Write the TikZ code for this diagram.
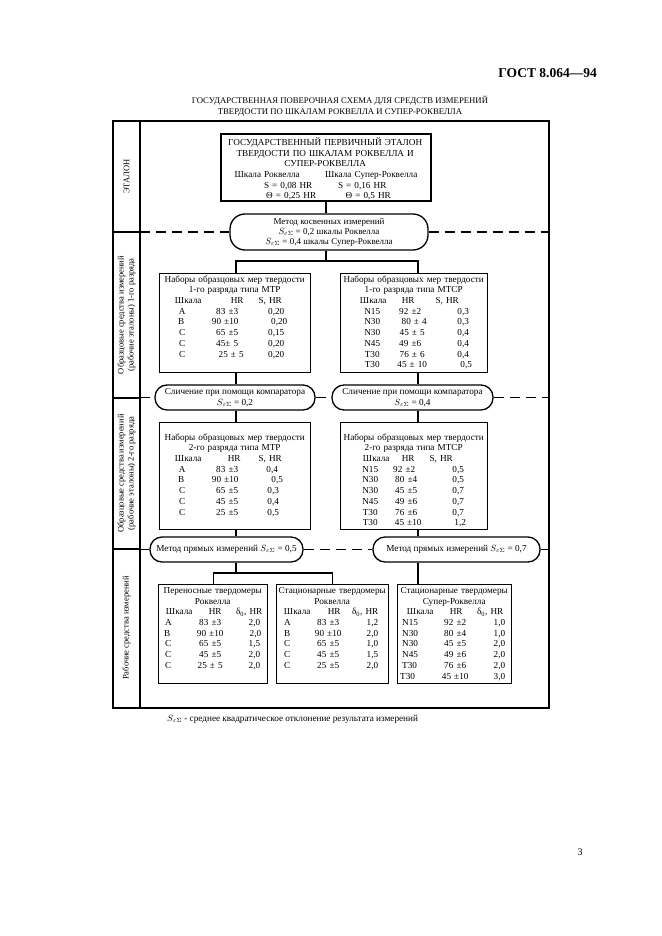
\documentclass[tikz,border=0pt]{standalone}
\usepackage{fontspec}
\setmainfont{Liberation Serif}
\setlength\parindent{0pt}
\newcommand\fs{\fontsize{9.2}{10.7}\selectfont}
\newcommand\cellC[2]{\leavevmode\rlap{\hspace*{#1pt}\makebox[0pt][c]{#2}}}
\newcommand\cellR[2]{\leavevmode\rlap{\hspace*{#1pt}\llap{#2}}}
\newcommand\cellL[2]{\leavevmode\rlap{\hspace*{#1pt}#2}}
\newcommand\ctr[2]{\leavevmode\makebox[#1pt][c]{#2}}
\newcommand\Se{$S_{\varepsilon\Sigma}$}
\newcommand\dz{δ\textsubscript{0}, HR}
\begin{document}
\begin{tikzpicture}[x=1pt,y=-1pt,
  box/.style={draw, line width=1.4pt, inner sep=0pt, anchor=north west},
  tbl/.style={inner sep=0pt, anchor=north west, font=\fs, align=left, text width=#1},
  pill/.style={draw, line width=1.3pt, rounded corners=12pt, inner sep=0pt, font=\fs, align=center},
  conn/.style={line width=1.2pt},
  dline/.style={line width=1.2pt, dash pattern=on 10pt off 6pt},
  lbl/.style={rotate=90, align=center, inner sep=0pt, font=\fontsize{8.5}{10}\selectfont}]
\useasboundingbox (0,0) rectangle (661,936);
\fill[white] (0,0) rectangle (661,936);

% header
\node[anchor=east, inner sep=0pt, font=\bfseries\fontsize{13.5}{15}\selectfont] (gost) at (597,73) {ГОСТ 8.064—94};
\node[align=center, inner sep=0pt, font=\fontsize{8.7}{11}\selectfont] (title) at (340,106.5)
  {ГОСУДАРСТВЕННАЯ ПОВЕРОЧНАЯ СХЕМА ДЛЯ СРЕДСТВ ИЗМЕРЕНИЙ\\ТВЕРДОСТИ ПО ШКАЛАМ РОКВЕЛЛА И СУПЕР-РОКВЕЛЛА};

% frame
\draw[line width=1.3pt] (113,121) rectangle (549,708);
\draw[line width=1.3pt] (140,121) -- (140,708);
\draw[line width=1.2pt] (113,232) -- (140,232);
\draw[line width=1.2pt] (113,398) -- (140,398);
\draw[line width=1.2pt] (113,549) -- (140,549);
\coordinate (fl) at (140,0);
\coordinate (fr) at (549,0);

% left labels
\node[lbl] (l1) at (126.5,176.5) {ЭТАЛОН};
\node[lbl] (l2) at (126.5,315) {Образцовые средства измерений\\(рабочие эталоны) 1-го разряда};
\node[lbl] (l3) at (126.5,473.5) {Образцовые средства измерений\\(рабочие эталоны) 2-го разряда};
\node[lbl] (l4) at (126.5,628) {Рабочие средства измерений};

% top box
\node[box, line width=2.2pt, minimum width=210pt, minimum height=67pt] (t) at (220,133) {};
\node[tbl=210pt] (tt) at (220,137.4) {%
\ctr{210}{ГОСУДАРСТВЕННЫЙ ПЕРВИЧНЫЙ ЭТАЛОН}\\
\ctr{210}{ТВЕРДОСТИ ПО ШКАЛАМ РОКВЕЛЛА И}\\
\ctr{210}{СУПЕР-РОКВЕЛЛА}\\
\cellC{47}{Шкала Роквелла}\cellC{151}{Шкала Супер-Роквелла}\\
\cellC{68}{S = 0,08 HR}\cellC{142}{S = 0,16 HR}\\
\cellC{71}{Θ = 0,25 HR}\cellC{148}{Θ = 0,5 HR}};

% method box
\node[pill, rounded corners=15pt, minimum width=198pt, minimum height=36pt, font=\fontsize{9}{10}\selectfont] (m) at (329,232)
 {Метод косвенных измерений\\ \Se{} = 0,2 шкалы Роквелла\\ \Se{} = 0,4 шкалы Супер-Роквелла};

% first-rank boxes
\node[box, minimum width=151pt, minimum height=99pt] (b1) at (159,273) {};
\node[box, minimum width=147pt, minimum height=99pt] (b2) at (340,273) {};
\node[tbl=151pt] (tp1) at (159,275.4) {%
\ctr{151}{Наборы образцовых мер твердости}\\
\ctr{151}{1-го разряда типа МТР}\\
\cellC{29}{Шкала}\cellC{78}{HR}\cellC{111}{S, HR}\\
\cellC{23}{A}\cellC{68}{83 ±3}\cellC{117}{0,20}\\
\cellC{22}{B}\cellC{66}{90 ±10}\cellC{120}{0,20}\\
\cellC{23}{C}\cellC{68}{65 ±5}\cellC{117}{0,15}\\
\cellC{23}{C}\cellC{68}{45± 5}\cellC{117}{0,20}\\
\cellC{23}{C}\cellC{72}{25 ± 5}\cellC{117}{0,20}};
\node[tbl=147pt] (tp2) at (340,275.4) {%
\ctr{147}{Наборы образцовых мер твердости}\\
\ctr{147}{1-го разряда типа МТСР}\\
\cellC{33}{Шкала}\cellC{68}{HR}\cellC{107}{S, HR}\\
\cellC{32}{N15}\cellC{70}{92 ±2}\cellC{123}{0,3}\\
\cellC{32}{N30}\cellC{74}{80 ± 4}\cellC{123}{0,3}\\
\cellC{32}{N30}\cellC{72}{45 ± 5}\cellC{123}{0,4}\\
\cellC{32}{N45}\cellC{70}{49 ±6}\cellC{123}{0,4}\\
\cellC{32}{T30}\cellC{72}{76 ± 6}\cellC{123}{0,4}\\
\cellC{32}{T30}\cellC{72}{45 ± 10}\cellC{126}{0,5}};

% comparator boxes
\node[pill, minimum width=160pt, minimum height=25pt] (cl) at (235,397.5)
 {Сличение при помощи компаратора\\ \Se{} = 0,2};
\node[pill, minimum width=161pt, minimum height=25pt] (cr) at (412.5,397.5)
 {Сличение при помощи компаратора\\ \Se{} = 0,4};

% second-rank boxes
\node[box, minimum width=151pt, minimum height=107pt] (b3) at (159,422) {};
\node[box, minimum width=147pt, minimum height=107pt] (b4) at (340,422) {};
\node[tbl=151pt] (tp3) at (159,433.4) {%
\ctr{151}{Наборы образцовых мер твердости}\\
\ctr{151}{2-го разряда типа МТР}\\
\cellC{29}{Шкала}\cellC{75}{HR}\cellC{111}{S, HR}\\
\cellC{23}{A}\cellC{68}{83 ±3}\cellC{113}{0,4}\\
\cellC{22}{B}\cellC{66}{90 ±10}\cellC{118}{0,5}\\
\cellC{23}{C}\cellC{68}{65 ±5}\cellC{114}{0,3}\\
\cellC{23}{C}\cellC{68}{45 ±5}\cellC{114}{0,4}\\
\cellC{23}{C}\cellC{68}{25 ±5}\cellC{114}{0,5}};
\node[tbl=147pt] (tp4) at (340,433.4) {%
\ctr{147}{Наборы образцовых мер твердости}\\
\ctr{147}{2-го разряда типа МТСР}\\
\cellC{36}{Шкала}\cellC{68}{HR}\cellC{101}{S, HR}\\
\cellC{30}{N15}\cellC{64}{92 ±2}\cellC{118}{0,5}\\
\cellC{30}{N30}\cellC{66}{80 ±4}\cellC{118}{0,5}\\
\cellC{30}{N30}\cellC{66}{45 ±5}\cellC{118}{0,7}\\
\cellC{30}{N45}\cellC{66}{49 ±6}\cellC{118}{0,7}\\
\cellC{30}{T30}\cellC{66}{76 ±6}\cellC{118}{0,7}\\
\cellC{30}{T30}\cellC{68}{45 ±10}\cellC{120}{1,2}};

% direct method boxes
\node[pill, minimum width=153pt, minimum height=25pt] (dl) at (226.5,549.5)
 {Метод прямых измерений \Se{} = 0,5};
\node[pill, minimum width=167pt, minimum height=25pt] (dr) at (456.5,549.5)
 {Метод прямых измерений \Se{} = 0,7};

% working instruments
\node[box, minimum width=109pt, minimum height=99pt] (w1) at (158,584) {};
\node[box, minimum width=112pt, minimum height=99pt] (w2) at (276,584) {};
\node[box, minimum width=114pt, minimum height=99pt] (w3) at (397,584) {};
\node[tbl=109pt] (tw1) at (158,587.2) {%
\ctr{109}{Переносные твердомеры}\\
\ctr{109}{Роквелла}\\
\cellC{21}{Шкала}\cellC{57}{HR}\cellC{91}{\dz}\\
\cellL{7}{A}\cellC{52}{83 ±3}\cellR{102}{2,0}\\
\cellL{6}{B}\cellC{52}{90 ±10}\cellR{103}{2,0}\\
\cellL{7}{C}\cellC{52}{65 ±5}\cellR{102}{1,5}\\
\cellL{7}{C}\cellC{52}{45 ±5}\cellR{102}{2,0}\\
\cellL{7}{C}\cellC{52}{25 ± 5}\cellR{102}{2,0}};
\node[tbl=112pt] (tw2) at (276,587.2) {%
\ctr{112}{Стационарные твердомеры}\\
\ctr{112}{Роквелла}\\
\cellC{21}{Шкала}\cellC{58}{HR}\cellC{89}{\dz}\\
\cellL{8}{A}\cellC{52}{83 ±3}\cellR{102}{1,2}\\
\cellL{8}{B}\cellC{52}{90 ±10}\cellR{102}{2,0}\\
\cellL{8}{C}\cellC{52}{65 ±5}\cellR{102}{1,0}\\
\cellL{8}{C}\cellC{52}{45 ±5}\cellR{102}{1,5}\\
\cellL{8}{C}\cellC{52}{25 ±5}\cellR{102}{2,0}};
\node[tbl=114pt] (tw3) at (397,587.2) {%
\ctr{114}{Стационарные твердомеры}\\
\ctr{114}{Супер-Роквелла}\\
\cellC{23}{Шкала}\cellC{59}{HR}\cellC{93}{\dz}\\
\cellL{5}{N15}\cellC{58}{92 ±2}\cellR{108}{1,0}\\
\cellL{5}{N30}\cellC{58}{80 ±4}\cellR{108}{1,0}\\
\cellL{5}{N30}\cellC{58}{45 ±5}\cellR{108}{2,0}\\
\cellL{5}{N45}\cellC{58}{49 ±6}\cellR{108}{2,0}\\
\cellL{5}{T30}\cellC{58}{76 ±6}\cellR{108}{2,0}\\
\cellL{3}{T30}\cellC{58}{45 ±10}\cellR{108}{3,0}};

% connectors
\coordinate (xl) at (236,0);
\coordinate (xr) at (418,0);
\coordinate (xm) at (326,0);
\coordinate (j1) at (326,261);
\coordinate (j2) at (236,573);
\draw[conn] (t.south -| xm) -- (m.north -| xm);
\draw[conn] (m.south -| xm) -- (j1);
\draw[conn] (b1.north -| xl) |- (j1) -| (b2.north -| xr);
\draw[conn] (b1.south -| xl) -- (cl.north -| xl);
\draw[conn] (cl.south -| xl) -- (b3.north -| xl);
\draw[conn] (b2.south -| xr) -- (cr.north -| xr);
\draw[conn] (cr.south -| xr) -- (b4.north -| xr);
\draw[conn] (b3.south -| xl) -- (dl.north -| xl);
\draw[conn] (b4.south -| xr) -- (dr.north -| xr);
\draw[conn] (dl.south -| xl) -- (j2);
\draw[conn] (w1.north) |- (j2) -| (w2.north);
\draw[conn] (dr.south -| xr) -- (w3.north -| xr);

% dashed level lines
\draw[dline] (m.west -| fl) -- (m.west);
\draw[dline] (m.east) -- (m.east -| fr);
\draw[dline] (cl.west -| fl) -- (cl.west);
\draw[dline] (cl.east) -- (cr.west);
\draw[dline] (cr.east) -- (cr.east -| fr);
\draw[dline] (dl.west -| fl) -- (dl.west);
\draw[dline] (dl.east) -- (dr.west);
\draw[conn] (dr.east) -- (dr.east -| fr);

% footnote and page number
\node[anchor=west, inner sep=0pt, font=\fs] (fn) at (167,719)
 {\Se{} - среднее квадратическое отклонение результата измерений};
\node[inner sep=0pt, font=\fontsize{10}{12}\selectfont] (pg) at (580,852) {3};
\end{tikzpicture}
\end{document}
